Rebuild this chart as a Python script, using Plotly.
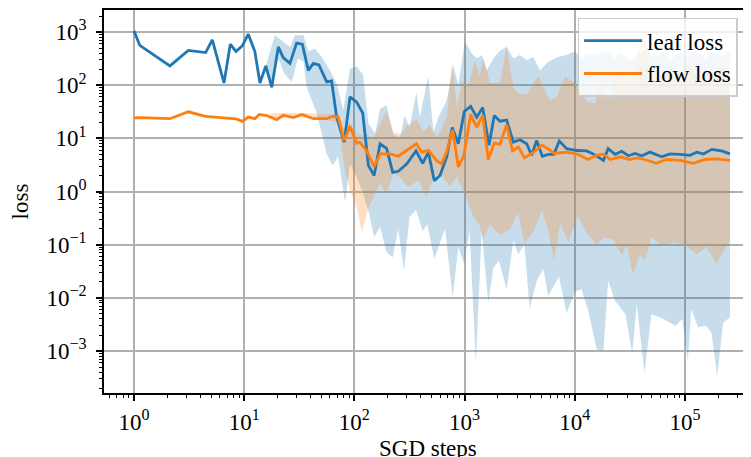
import plotly.graph_objects as go

# ---- data ----
leaf_steps = [1.0, 1.13, 2.12, 3.11, 4.47, 5.14, 6.56, 7.48, 8.43, 9.61, 10.9, 12.5, 13.9, 15.7, 17.8,
              20.4, 22.6, 26.0, 29.9, 33.7, 38.2, 42.4, 47.7, 56.1, 62.2, 69.0, 80.9, 91.2, 105, 119,
              134, 151, 171, 196, 223, 250, 298, 362, 417, 469, 531, 598, 689, 773, 877, 994,
              1135, 1288, 1460, 1665, 1860, 2095, 2410, 2770, 3180, 3660, 4060, 4510, 5070, 5745,
              6470, 7230, 8440, 10400, 12800, 14700, 18200, 20100, 23200, 26700, 30600, 35200,
              40500, 48100, 61500, 73100, 90100, 111000, 128000, 147000, 175000, 215000, 256000]
leaf_loss = [1050, 560, 230, 450, 410, 710, 110, 590, 430, 550, 910, 430, 110, 230, 91,
             525, 330, 257, 617, 589, 190, 257, 240, 115, 120, 25, 8.5, 60, 48, 30,
             3.1, 2.0, 7.9, 6.5, 2.3, 2.4, 3.3, 5.8, 3.4, 5.5, 1.6, 2.0, 4.5, 16, 7.9, 32,
             40, 25, 38, 7.4, 27, 21, 22, 8.5, 9.4, 7.9, 4.8, 9.1, 4.6, 5.0,
             5.0, 8.9, 6.4, 5.9, 5.8, 5.1, 3.85, 6.4, 5.0, 5.7, 4.7, 5.2,
             4.7, 5.5, 4.5, 5.1, 5.0, 4.8, 5.5, 5.1, 6.2, 5.8, 5.1]

flow_steps = [1.0, 1.13, 2.12, 3.11, 4.47, 6.56, 8.43, 9.61, 10.9, 12.5, 13.7, 16.0, 19.7, 22.6,
              27.9, 33.3, 42.4, 56.1, 64.3, 71.2, 80.9, 91.2, 105, 112, 129, 151, 171, 210, 250,
              298, 366, 407, 469, 556, 617, 689, 780, 877, 987, 1135, 1288, 1460, 1640, 1860,
              2095, 2410, 2720, 3070, 3500, 4240, 5040, 5745, 6530, 8440, 10700, 13200, 15800,
              18200, 20900, 25700, 31500, 36500, 43000, 55000, 68000, 90100, 119000, 151000,
              193000, 256000]
flow_loss = [24.2, 24.5, 23.4, 31.6, 26.0, 24.5, 23.2, 20.9, 25.1, 23.4, 28.2, 26.9, 22.5, 27.2,
             24.5, 28.2, 23.4, 23.4, 26.0, 25.1, 9.1, 16.8, 8.1, 8.4, 5.9, 2.9, 5.1, 5.1, 4.6,
             5.9, 7.9, 5.5, 5.9, 3.85, 3.3, 5.5, 14.5, 2.9, 4.8, 28.2, 16.2, 26.9, 4.0, 8.1,
             7.7, 18.2, 5.8, 6.9, 4.3, 5.5, 7.4, 6.3, 5.2, 5.5, 5.0, 4.0, 4.8,
             5.1, 4.0, 4.5, 4.0, 4.3, 4.0, 3.4, 4.0, 3.85, 3.4, 4.0,
             4.1, 3.85]

leaf_hi_steps = [15.7, 19.0, 22.6, 26.0, 28.9, 34.5, 38.2, 43.8, 50.6, 60.0, 69.0, 79.5, 91.2, 105,
                 120, 134, 154, 171, 196, 226, 260, 286, 316, 366, 392, 469, 521, 579, 689, 790,
                 877, 1008, 1160, 1288, 1430, 1590, 1825, 2095, 2410, 2770, 3180, 3660, 4210,
                 4840, 5745, 7070, 8440, 10000, 11500, 13300, 15800, 19000, 22800, 26300, 31500,
                 37100, 43700, 52500, 62200, 73700, 90100, 106000, 125000, 151000, 178000,
                 210000, 256000]
leaf_hi = [230, 870, 660, 525, 870, 870, 430, 490, 340, 190, 107, 34, 204, 224,
           155, 19, 12.3, 36, 42, 11.5, 10.5, 27, 16, 74, 25, 148, 13, 25, 52, 240,
           100, 660, 400, 316, 370, 190, 316, 447, 525, 316, 370, 295, 340,
           190, 275, 340, 370, 430, 316, 400, 355, 457, 316, 417, 282,
           380, 457, 331, 400, 302, 417, 355, 457, 316, 400,
           355, 417]

leaf_lo_steps = [15.7, 17.8, 20.4, 23.4, 27.1, 30.6, 34.5, 36.8, 45.5, 56.1, 63.5, 71.2, 82.2, 91.2,
                 105, 120, 136, 151, 171, 196, 223, 250, 282, 316, 362, 417, 459, 531, 665, 780,
                 877, 987, 1110, 1265, 1430, 1640, 1825, 2050, 2410, 2770, 3070, 3490, 3900,
                 4510, 5180, 5745, 7190, 8440, 10000, 11500, 13300, 15800, 18200, 20100, 23200,
                 28900, 33200, 36500, 42900, 49600, 59300, 68500, 82200, 94700, 106000, 114000,
                 131000, 156000, 174000, 196000, 222000, 256000]
leaf_lo = [230, 91, 316, 158, 115, 316, 282, 93, 30, 5.1, 3.1, 4.5, 0.63, 3.3,
           1.86, 0.91, 0.38, 0.138, 0.214, 0.071, 0.058, 0.20, 0.032, 0.33, 0.45, 0.18, 0.245,
           0.054, 0.20, 0.0102, 0.089, 0.044, 0.18, 0.0006, 0.18, 0.0081, 0.037, 0.050,
           0.0145, 0.12, 0.066, 0.10, 0.0062, 0.021, 0.035, 0.011, 0.025, 0.0052, 0.013,
           0.0145, 0.0056, 0.00107, 0.00102, 0.021, 0.0087, 0.0049, 0.00087, 0.0076, 0.00039,
           0.0049, 0.0043, 0.0037, 0.0030, 0.0040, 0.00065, 0.0062, 0.0028, 0.0030, 0.0022,
           0.00034, 0.0034, 0.0043]

flow_hi_steps = [17.1, 26.0, 39.6, 60.0, 73.0, 80.3, 91.2, 103, 117, 129, 147, 171, 196, 226, 260,
                 305, 366, 422, 484, 560, 689, 769, 854, 948, 1075, 1245, 1370, 1480, 1700, 2095,
                 2410, 2770, 3180, 3680, 4210, 4670, 5180, 5960, 6850, 8170, 9710, 11100, 12800,
                 15200, 17300, 20000, 23200, 26800, 31500, 35700, 41500, 48100, 56900, 67100,
                 79400, 93800, 111000, 131000, 155000, 183000, 216000, 256000]
flow_hi = [29.5, 30.2, 29.5, 28.2, 28.2, 15.8, 20, 13.2, 11.2, 12.3, 9.5, 19, 31.6, 13.2, 12,
           17.8, 22.9, 13.5, 17.8, 10, 25, 275, 39, 123, 93, 295, 145, 340, 110, 112,
           550, 89, 68, 69, 105, 148, 91, 52, 60, 145, 115, 81, 50,
           45, 126, 52, 158, 200, 126, 251, 1260, 200, 126, 200,
           158, 112, 224, 141, 200, 158, 224, 200]

flow_lo_steps = [17.1, 26.0, 39.6, 60.0, 70.8, 82.2, 91.2, 105, 117, 134, 150, 171, 196, 226, 260,
                 308, 380, 452, 535, 640, 737, 846, 1040, 1200, 1360, 1480, 1700, 2095, 2590,
                 3050, 3500, 4240, 5040, 5745, 6470, 7350, 8780, 10700, 12800, 15800, 18200,
                 22300, 26700, 29600, 33700, 39000, 43300, 49700, 61500, 78200, 99000, 128000,
                 156000, 193000, 256000]
flow_lo = [24.5, 24.5, 25.1, 21.4, 20, 2.5, 1.05, 0.50, 0.17, 0.50, 0.78, 1.41, 0.91, 2.14, 1.86,
           1.20, 1.62, 0.78, 2.14, 1.86, 1.26, 1.86, 0.78, 0.33, 0.24, 0.129, 0.245, 0.151, 0.20,
           0.40, 0.105, 0.18, 0.44, 0.18, 0.051, 0.245, 0.115, 0.355, 0.166, 0.10, 0.138,
           0.123, 0.063, 0.10, 0.0275, 0.066, 0.050, 0.141, 0.095, 0.110, 0.10, 0.066,
           0.089, 0.044, 0.120]

x_tick_values = [1, 10, 100, 1000, 10000, 100000]
x_tick_labels = ["10<sup>0</sup>", "10<sup>1</sup>", "10<sup>2</sup>", "10<sup>3</sup>",
                 "10<sup>4</sup>", "10<sup>5</sup>"]
y_tick_values = [1e-3, 1e-2, 1e-1, 1, 10, 100, 1000]
y_tick_labels = ["10<sup>\u22123</sup>", "10<sup>\u22122</sup>", "10<sup>\u22121</sup>",
                 "10<sup>0</sup>", "10<sup>1</sup>", "10<sup>2</sup>", "10<sup>3</sup>"]
x_title = "SGD steps"
y_title = "loss"

BLUE = "#1f77b4"
ORANGE = "#ff7f0e"
FONT = "Liberation Serif"
FS = 23

fig = go.Figure()

# bands
fig.add_trace(go.Scatter(
    x=leaf_hi_steps + leaf_lo_steps[::-1], y=leaf_hi + leaf_lo[::-1],
    fill="toself", fillcolor="rgba(31,119,180,0.25)", line=dict(width=0),
    mode="lines", showlegend=False, hoverinfo="skip"))
fig.add_trace(go.Scatter(
    x=flow_hi_steps + flow_lo_steps[::-1], y=flow_hi + flow_lo[::-1],
    fill="toself", fillcolor="rgba(255,127,14,0.25)", line=dict(width=0),
    mode="lines", showlegend=False, hoverinfo="skip"))

# lines
fig.add_trace(go.Scatter(x=leaf_steps, y=leaf_loss, mode="lines", name="leaf loss",
                         legendgroup="leaf", line=dict(color=BLUE, width=2.8)))
fig.add_trace(go.Scatter(x=flow_steps, y=flow_loss, mode="lines", name="flow loss",
                         legendgroup="flow", line=dict(color=ORANGE, width=2.8)))

axis_common = dict(
    showline=True, linecolor="black", linewidth=1.8,
    showgrid=True, gridcolor="#b0b0b0", gridwidth=1.6,
    ticks="outside", ticklen=6, tickwidth=1.5, tickcolor="black",
    zeroline=False,
    tickfont=dict(family=FONT, size=FS, color="black"),
    minor=dict(ticks="outside", ticklen=3.5, tickwidth=1, tickcolor="black",
               showgrid=False, dtick="D1"),
)

fig.update_xaxes(
    type="log", range=[-0.272, 5.599],
    tickvals=x_tick_values, ticktext=x_tick_labels,
    mirror=True, ticklabelstandoff=1,
    **axis_common)
fig.update_yaxes(
    type="log", range=[-3.79, 3.414],
    tickvals=y_tick_values, ticktext=y_tick_labels,
    ticklabelstandoff=5,
    title=dict(text=y_title, font=dict(family=FONT, size=FS, color="black"), standoff=14),
    **axis_common)

# x-axis title as an annotation so it can sit partly below the window edge like the reference
fig.add_annotation(
    text=x_title, xref="paper", yref="paper", x=0.5, y=-0.108,
    xanchor="center", yanchor="top", showarrow=False,
    font=dict(family=FONT, size=FS, color="black"))

# the page body adds an 8px offset, so the figure is sized to end at the window edge
fig.update_layout(
    width=743, height=449,
    margin=dict(l=96, r=0, t=2, b=64, autoexpand=False),
    paper_bgcolor="white", plot_bgcolor="white",
    font=dict(family=FONT, size=FS, color="black"),
    legend=dict(
        x=0.732, y=0.98, xanchor="left", yanchor="top",
        bgcolor="rgba(255,255,255,0.8)", bordercolor="#cccccc", borderwidth=1.5,
        font=dict(family=FONT, size=FS, color="black"),
        itemwidth=58, tracegroupgap=0,
    ),
    showlegend=True,
)

fig.write_html("out.html")
